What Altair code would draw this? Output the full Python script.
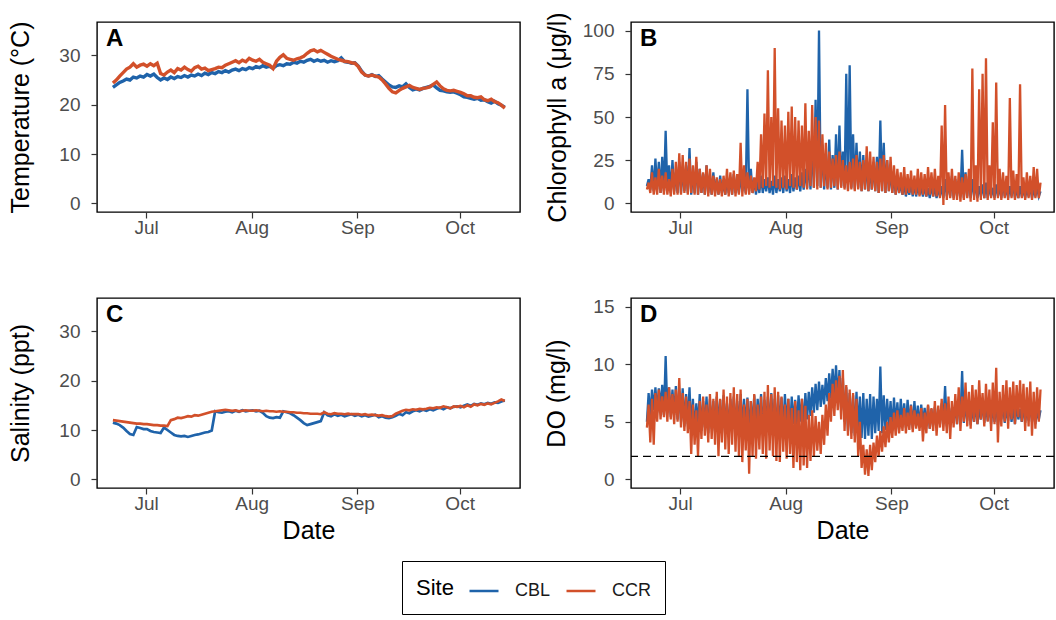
import altair as alt
import pandas as pd

# ---------------- data (one value per day, or daily low/high pairs) -------------
START = "2018-06-21 06:00"
N_DAYS = 116
SITES = ["CBL", "CCR"]
BLUE = "#1F63AA"
RED = "#D2502A"

TEMP_CBL = [
    23.5, 24.0, 24.5, 24.8, 25.2, 25.0, 25.6, 25.4, 25.8, 25.6,
    26.1, 25.8, 26.2, 25.5, 25.0, 25.4, 25.1, 25.6, 25.3, 25.7,
    25.5, 25.9, 25.6, 26.0, 25.8, 26.2, 25.9, 26.4, 26.1, 26.5,
    26.3, 26.7, 26.5, 26.9, 26.6, 27.0, 27.2, 26.9, 27.3, 27.1,
    27.5, 27.3, 27.7, 27.5, 27.9, 27.6, 27.8, 27.4, 27.9, 28.1,
    27.9, 28.3, 28.2, 28.6, 28.4, 28.8, 28.6, 29.0, 29.2, 28.8,
    29.1, 28.8, 29.0, 28.6, 28.9, 28.7, 28.9, 29.5, 28.7, 28.6,
    28.4, 28.5, 27.8, 26.8, 26.0, 25.8, 26.1, 25.7, 25.9, 25.2,
    24.6, 24.0, 23.6, 23.5, 23.8, 23.6, 24.2, 23.5, 23.0, 23.2,
    23.0, 23.3, 23.5, 23.7, 24.0, 23.4, 22.9, 22.8, 22.6, 22.5,
    22.6, 22.3, 22.0, 21.6, 21.5, 21.3, 21.1, 21.3, 20.9, 21.0,
    20.6, 20.3, 20.7, 20.2, 19.9, 19.5]
TEMP_CCR = [
    24.4, 25.0, 25.8, 26.5, 27.2, 27.6, 28.3, 27.6, 28.0, 28.2,
    27.8, 28.3, 27.9, 28.4, 26.3, 26.0, 26.6, 27.0, 26.5, 27.3,
    27.0, 27.6, 27.1, 26.8, 27.5, 27.8, 27.2, 27.4, 26.9, 27.1,
    27.3, 27.6, 27.5, 28.0, 28.3, 28.6, 28.9, 28.5, 29.0, 28.7,
    29.4, 29.0, 28.8, 29.2, 28.6, 28.3, 28.0, 27.3, 28.8, 29.6,
    30.1, 29.4, 29.2, 29.0, 29.3, 29.5, 29.8, 30.4, 30.9, 31.1,
    30.7, 31.0, 30.6, 30.2, 29.8, 29.5, 29.2, 29.0, 28.8, 28.7,
    28.5, 28.4, 27.7, 26.6, 26.0, 25.8, 26.0, 25.8, 25.6, 25.0,
    24.2, 23.3, 22.6, 22.4, 22.9, 23.3, 23.6, 23.9, 23.5, 23.3,
    23.1, 23.3, 23.4, 23.6, 24.1, 24.6, 23.8, 23.2, 22.9, 22.8,
    22.9, 22.7, 22.5, 22.2, 21.8, 21.8, 21.5, 21.4, 21.6, 21.0,
    20.8, 21.1, 20.6, 20.4, 19.9, 19.3]

SAL_CBL = [
    11.5, 11.3, 11.0, 10.5, 9.8, 9.2, 9.0, 10.6, 10.4, 10.2,
    10.2, 9.8, 9.6, 9.5, 9.4, 10.5, 10.0, 9.5, 9.0, 8.8,
    8.7, 8.8, 8.6, 8.8, 9.0, 9.1, 9.3, 9.5, 9.6, 9.9,
    13.8, 13.6, 13.5, 13.7, 13.8, 13.6, 13.9, 13.7, 14.0, 13.8,
    13.9, 14.0, 13.8, 13.9, 13.5, 12.8, 12.5, 12.4, 12.6, 12.5,
    13.8, 13.6, 13.4, 13.0, 12.5, 12.0, 11.4, 11.0, 11.2, 11.4,
    11.6, 11.8, 13.6, 13.0, 12.8, 13.2, 12.9, 13.1, 12.8, 13.0,
    13.2, 12.9, 13.1, 12.8, 13.0, 12.7, 12.9, 13.1, 12.6, 12.8,
    12.5, 12.4, 12.6, 12.9, 13.3, 13.0, 13.6, 13.4, 13.8, 14.0,
    13.8, 14.1, 13.9, 14.2, 14.0, 14.3, 14.5, 14.2, 14.6, 14.4,
    14.7, 14.8, 14.6, 14.9, 15.2, 14.9, 15.3, 15.1, 15.4, 15.2,
    15.5, 15.3, 15.6, 15.5, 15.8, 16.0]
SAL_CCR = [
    12.0, 11.9, 11.8, 11.7, 11.6, 11.5, 11.4, 11.3, 11.3, 11.2,
    11.2, 11.1, 11.0, 11.0, 10.9, 10.9, 10.8, 12.0, 12.2, 12.5,
    12.4, 12.6, 12.8, 12.7, 13.0, 12.9, 13.1, 13.3, 13.5, 13.7,
    13.8, 13.9, 14.0, 14.1, 14.0, 13.9, 14.0, 13.8, 13.9, 14.0,
    13.9, 13.9, 14.0, 13.9, 13.8, 13.9, 13.8, 13.8, 13.7, 13.8,
    13.7, 13.7, 13.6, 13.6, 13.5, 13.5, 13.4, 13.4, 13.3, 13.3,
    13.3, 13.2, 13.6, 13.3, 13.2, 13.4, 13.3, 13.3, 13.2, 13.3,
    13.2, 13.2, 13.2, 13.1, 13.2, 13.0, 13.1, 13.0, 12.9, 13.0,
    12.8, 12.7, 12.8, 13.3, 13.6, 13.9, 14.1, 14.0, 14.2, 14.1,
    14.3, 14.2, 14.3, 14.5, 14.4, 14.6, 14.5, 14.8, 14.6, 14.4,
    14.8, 14.7, 14.9, 14.6, 15.0, 14.7, 15.2, 15.0, 15.3, 15.1,
    15.4, 15.2, 15.5, 15.8, 16.2, 15.9]

CHL_CBL_LO = [
    10, 8, 7, 8, 6, 7, 8, 6, 7, 6,
    6, 7, 6, 5, 6, 5, 6, 5, 6, 5,
    6, 5, 6, 5, 6, 5, 6, 6, 7, 6,
    7, 6, 5, 6, 6, 7, 6, 5, 6, 7,
    6, 7, 6, 7, 8, 7, 8, 9, 8, 9,
    10, 9, 8, 9, 8, 9, 8, 10, 9, 8,
    9, 8, 9, 7, 8, 7, 8, 7, 6, 7,
    6, 7, 6, 5, 6, 5, 4, 5, 4, 4,
    5, 4, 4, 3, 4, 3, 4, 3, 4, 4,
    3, 4, 4, 3, 4, 3, 4, 3, 4, 3,
    3, 4, 3, 4, 3, 4, 3, 4, 3, 3,
    4, 3, 4, 3, 4, 4]
CHL_CBL_HI = [
    14, 22, 26, 24, 27, 42, 22, 25, 18, 24,
    20, 22, 32, 18, 24, 20, 17, 22, 16, 18,
    14, 16, 12, 14, 15, 17, 13, 16, 15, 66,
    20, 14, 13, 16, 14, 15, 13, 16, 14, 15,
    16, 14, 17, 15, 16, 18, 20, 25, 35, 60,
    100, 34, 26, 37, 28, 40, 45, 30, 75, 80,
    40, 35, 30, 28, 25, 22, 24, 27, 48, 35,
    25, 20, 16, 14, 12, 11, 10, 12, 11, 10,
    9, 10, 9, 11, 10, 9, 10, 14, 12, 16,
    14, 12, 31, 18, 16, 14, 12, 10, 11, 12,
    10, 9, 11, 10, 12, 9, 10, 11, 9, 10,
    8, 9, 10, 8, 9, 7]
CHL_CCR_LO = [
    8, 6, 5, 5, 6, 5, 5, 4, 5, 5,
    5, 6, 5, 6, 5, 5, 6, 5, 4, 5,
    4, 5, 4, 5, 4, 5, 4, 5, 4, 5,
    5, 6, 7, 8, 9, 10, 9, 10, 9, 8,
    9, 8, 10, 9, 8, 10, 9, 8, 10, 9,
    8, 9, 10, 8, 9, 10, 8, 9, 8, 7,
    8, 7, 8, 7, 8, 7, 8, 7, 6, 7,
    6, 7, 6, 5, 6, 5, 5, 6, 5, 5,
    4, 5, 4, 5, 4, 4, 3, -1, 2, 3,
    2, 2, 1, 2, 3, 1, 2, 1, 2, 3,
    2, 3, 2, 3, 2, 3, 2, 3, 2, 3,
    3, 2, 3, 2, 3, 3]
CHL_CCR_HI = [
    12, 18, 15, 20, 16, 18, 14, 20, 24, 29,
    28, 24, 26, 22, 27, 20, 18, 22, 20, 16,
    15, 14, 16, 20, 18, 19, 17, 35, 22, 18,
    16, 15, 24, 40, 52, 77, 50, 90, 55, 48,
    45, 53, 56, 50, 48, 45, 58, 42, 57, 50,
    48, 40, 35, 30, 26, 28, 30, 25, 22, 24,
    26, 28, 24, 25, 33, 30, 27, 24, 26, 28,
    25, 27, 22, 20, 18, 21, 17, 19, 16, 20,
    18, 17, 21, 18, 20, 16, 45, 57, 18, 20,
    16, 18, 15, 17, 20, 78, 22, 66, 75, 84,
    22, 47, 70, 20, 18, 16, 61, 19, 17, 69,
    15, 18, 16, 21, 20, 12]

DO_CBL_LO = [
    5.0, 5.5, 6.0, 5.8, 6.2, 5.6, 5.8, 5.4, 5.6, 5.2,
    5.0, 4.6, 4.8, 4.2, 4.0, 4.6, 4.2, 4.5, 4.0, 4.4,
    4.2, 4.6, 4.0, 4.5, 4.2, 4.8, 4.3, 4.6, 4.2, 4.5,
    4.0, 4.5, 4.2, 4.7, 4.3, 4.8, 4.4, 4.6, 4.0, 4.5,
    4.3, 4.6, 4.2, 4.8, 4.5, 5.0, 4.6, 5.2, 5.5, 5.8,
    6.0, 6.3, 6.5, 6.8, 7.0, 7.2, 6.8, 6.0, 5.0, 4.2,
    4.0, 3.8, 4.2, 3.6, 3.5, 3.8, 3.5, 4.0, 4.2, 4.0,
    4.3, 4.5, 4.2, 4.6, 4.4, 4.8, 4.5, 4.7, 4.4, 4.6,
    4.5, 4.8, 4.6, 4.4, 4.7, 4.5, 4.8, 5.0, 4.6, 4.9,
    5.0, 4.8, 5.2, 4.9, 5.1, 4.7, 5.0, 4.8, 5.2, 4.9,
    5.1, 4.8, 5.0, 4.7, 5.2, 4.9, 5.1, 5.0, 4.8, 5.2,
    5.0, 4.9, 5.1, 5.0, 4.8, 5.2]
DO_CBL_HI = [
    7.5, 7.8, 8.0, 7.9, 8.2, 10.7, 8.0, 7.8, 8.1, 7.7,
    7.9, 7.4, 8.0, 7.0, 6.6, 7.4, 6.8, 7.2, 7.0, 6.8,
    7.2, 6.9, 7.3, 6.6, 7.0, 7.2, 6.8, 7.4, 7.0, 7.1,
    6.8, 7.3, 7.0, 7.4, 6.9, 7.2, 7.5, 7.0, 7.3, 7.1,
    7.4, 7.0, 7.2, 6.9, 7.3, 7.0, 7.5, 7.6, 8.0, 8.3,
    8.5, 8.2, 8.8, 9.2, 9.6, 9.9, 9.5, 8.8, 8.0, 7.5,
    7.3, 7.6, 7.2, 7.5, 7.0, 7.4, 7.2, 7.0, 9.8, 7.3,
    7.0, 6.8, 7.1, 6.7, 7.0, 6.6, 6.9, 6.5, 6.8, 6.4,
    6.5, 6.2, 6.4, 6.1, 6.3, 6.0, 6.6, 8.1, 6.4, 6.2,
    6.5, 6.8, 9.4, 6.6, 6.9, 6.4, 6.7, 6.3, 6.8, 6.5,
    6.7, 6.4, 6.6, 6.3, 6.5, 6.2, 6.6, 6.3, 6.5, 6.1,
    6.4, 6.2, 6.5, 6.3, 6.1, 6.0]
DO_CCR_LO = [
    4.5, 3.2, 3.0, 5.0, 5.2, 5.4, 5.0, 5.2, 4.8, 5.0,
    4.5, 4.2, 4.0, 2.2, 3.0, 2.0, 3.5, 3.8, 3.2, 3.5,
    3.0, 2.0, 3.2, 2.6, 2.2, 3.0, 2.4, 2.0, 1.5, 2.5,
    0.5, 2.0, 1.8, 2.6, 2.2, 1.8, 2.5, 2.0, 1.6, 1.5,
    2.4, 1.8, 2.2, 1.0, 1.5, 0.8, 1.2, 1.0, 1.6, 2.0,
    2.5, 2.2, 3.0, 3.8, 5.0, 5.5, 6.0, 5.2, 4.2, 3.8,
    3.5, 3.2, 2.0, 1.0, 0.4, 0.3, 0.8, 1.5, 2.0, 2.4,
    2.8, 3.2, 3.6, 3.8, 4.0, 4.2, 4.0, 4.3, 4.1, 4.4,
    4.2, 3.3, 4.0, 4.4, 4.2, 3.8, 4.5, 4.2, 4.0, 3.5,
    4.5, 4.8, 4.2, 5.0, 4.6, 4.4, 5.0, 4.8, 5.2, 4.6,
    5.0, 4.2, 4.8, 3.2, 4.6, 5.0, 4.4, 5.2, 4.8, 5.4,
    5.0, 4.2, 4.6, 3.8, 4.4, 5.0]
DO_CCR_HI = [
    6.5, 7.0, 7.5, 7.8, 7.2, 7.6, 8.0, 7.4, 7.8, 8.8,
    7.5, 7.2, 6.8, 6.5, 6.0, 6.8, 7.2, 6.5, 7.4, 7.0,
    7.6, 7.0, 7.8, 7.2, 7.5, 8.0, 7.4, 7.8, 6.5, 7.0,
    6.8, 7.4, 6.5, 7.2, 7.6, 8.2, 7.4, 8.0, 7.6, 7.2,
    6.5, 7.0, 6.2, 6.8, 6.0, 7.0, 6.4, 5.6, 6.0, 5.5,
    5.0, 5.6, 6.5, 7.5, 8.3, 8.6, 9.0, 9.5, 8.2, 7.8,
    7.5, 7.0, 5.0, 3.0, 2.6, 3.0, 3.2, 3.8, 4.2, 4.6,
    5.0, 5.4, 5.8, 6.0, 5.6, 6.2, 5.8, 6.4, 6.0, 5.7,
    6.2, 5.8, 6.5, 6.2, 6.8, 6.4, 7.0, 6.6, 7.2, 6.8,
    7.4, 8.0, 7.2, 8.4, 7.6, 8.2, 7.8, 8.6, 7.5, 8.3,
    7.8, 8.4, 9.7, 7.6, 8.2, 8.6, 8.0, 8.5, 8.2, 8.6,
    8.3, 8.0, 8.5, 7.6, 8.0, 7.8]

DO_THRESHOLD = [2]
X_TICKS = [alt.DateTime(year=2018, month=m, date=1) for m in (7, 8, 9, 10)]
X_DOMAIN = [alt.DateTime(year=2018, month=6, date=16, hours=14),
            alt.DateTime(year=2018, month=10, date=18, hours=17)]

DAYS = pd.date_range(START, periods=N_DAYS, freq="D")


def daily_table(cbl, ccr):
    rows = []
    for site, vals in zip(SITES, (cbl, ccr)):
        for d, v in zip(DAYS, vals):
            rows.append({"date": d, "value": v, "site": site})
    return pd.DataFrame(rows)


def pair_table(cbl_lo, cbl_hi, ccr_lo, ccr_hi):
    rows = []
    for site, lo, hi in ((SITES[0], cbl_lo, cbl_hi), (SITES[1], ccr_lo, ccr_hi)):
        for d, a, b in zip(DAYS, lo, hi):
            rows.append({"date": d, "value": a, "site": site})
            rows.append({"date": d + pd.Timedelta(hours=12), "value": b, "site": site})
    return pd.DataFrame(rows)


FONT = "Liberation Sans"
W, H = 423, 190

COLOR = alt.Color(
    "site:N",
    scale=alt.Scale(domain=SITES, range=[BLUE, RED]),
    legend=alt.Legend(title="Site"),
)


def panel(df, tag, ytitle, ydomain, yticks, xtitle, title_pad, stroke, threshold=None):
    x = alt.X(
        "date:T",
        scale=alt.Scale(domain=X_DOMAIN),
        axis=alt.Axis(values=X_TICKS, format="%b", title=xtitle, labelPadding=0,
                      titlePadding=5),
    )
    y = alt.Y(
        "value:Q",
        scale=alt.Scale(domain=ydomain, nice=False, zero=False),
        axis=alt.Axis(values=yticks, title=ytitle, titlePadding=title_pad, labelPadding=11),
    )
    lines = alt.Chart(df).mark_line(strokeWidth=stroke, clip=True).encode(
        x=x, y=y, color=COLOR
    )
    label = alt.Chart(pd.DataFrame({"tag": [tag]})).mark_text(
        align="left", baseline="top", fontSize=24, fontWeight="bold", font=FONT, color="black"
    ).encode(text="tag:N", x=alt.value(9), y=alt.value(5))
    layers = [lines]
    if threshold is not None:
        rule = alt.Chart(pd.DataFrame({"value": threshold})).mark_rule(
            color="black", strokeDash=[8, 5], strokeWidth=1.4
        ).encode(y=y)
        layers.append(rule)
    layers.append(label)
    return alt.layer(*layers).properties(width=W, height=H)


pA = panel(daily_table(TEMP_CBL, TEMP_CCR), "A", "Temperature (°C)",
           [-1.75, 36.75], [0, 10, 20, 30], None, 25, 3.4)
pB = panel(pair_table(CHL_CBL_LO, CHL_CBL_HI, CHL_CCR_LO, CHL_CCR_HI), "B",
           "Chlorophyll a (μg/l)", [-5, 105], [0, 25, 50, 75, 100], None, 12, 2.3)
pC = panel(daily_table(SAL_CBL, SAL_CCR), "C", "Salinity (ppt)",
           [-1.75, 36.75], [0, 10, 20, 30], "Date", 25, 2.7)
pD = panel(pair_table(DO_CBL_LO, DO_CBL_HI, DO_CCR_LO, DO_CCR_HI), "D", "DO (mg/l)",
           [-0.75, 15.75], [0, 5, 10, 15], "Date", 23, 2.3, threshold=DO_THRESHOLD)

top = alt.hconcat(pA, pB, spacing=23)
bottom = alt.hconcat(pC, pD, spacing=23)

chart = (
    alt.vconcat(top, bottom, spacing=58)
    .properties(padding={"left": 8, "top": 11, "right": 0, "bottom": 0}, background="white")
    .configure_view(stroke="black", strokeWidth=1.4)
    .configure_axis(
        grid=False, domain=False, tickColor="#333333", tickSize=6, tickWidth=1.2,
        labelColor="#4D4D4D", labelFontSize=19, labelFont=FONT,
        titleFont=FONT, titleFontSize=25, titleFontWeight="normal", titleColor="black",
    )
    .configure_legend(
        orient="none", legendX=305, legendY=539, direction="horizontal",
        titleOrient="left", titleAnchor="middle", titleBaseline="middle",
        strokeColor="black", padding=14, symbolType="stroke",
        symbolSize=841, symbolStrokeWidth=2.5, labelFontSize=18, titleFontSize=22,
        labelFont=FONT, titleFont=FONT, titleFontWeight="normal", titleColor="black",
        labelColor="#1A1A1A", labelOffset=15, columnPadding=10, titlePadding=14,
        fillColor="white",
    )
)

chart.save("out.html", embed_options={"renderer": "svg", "actions": False})
